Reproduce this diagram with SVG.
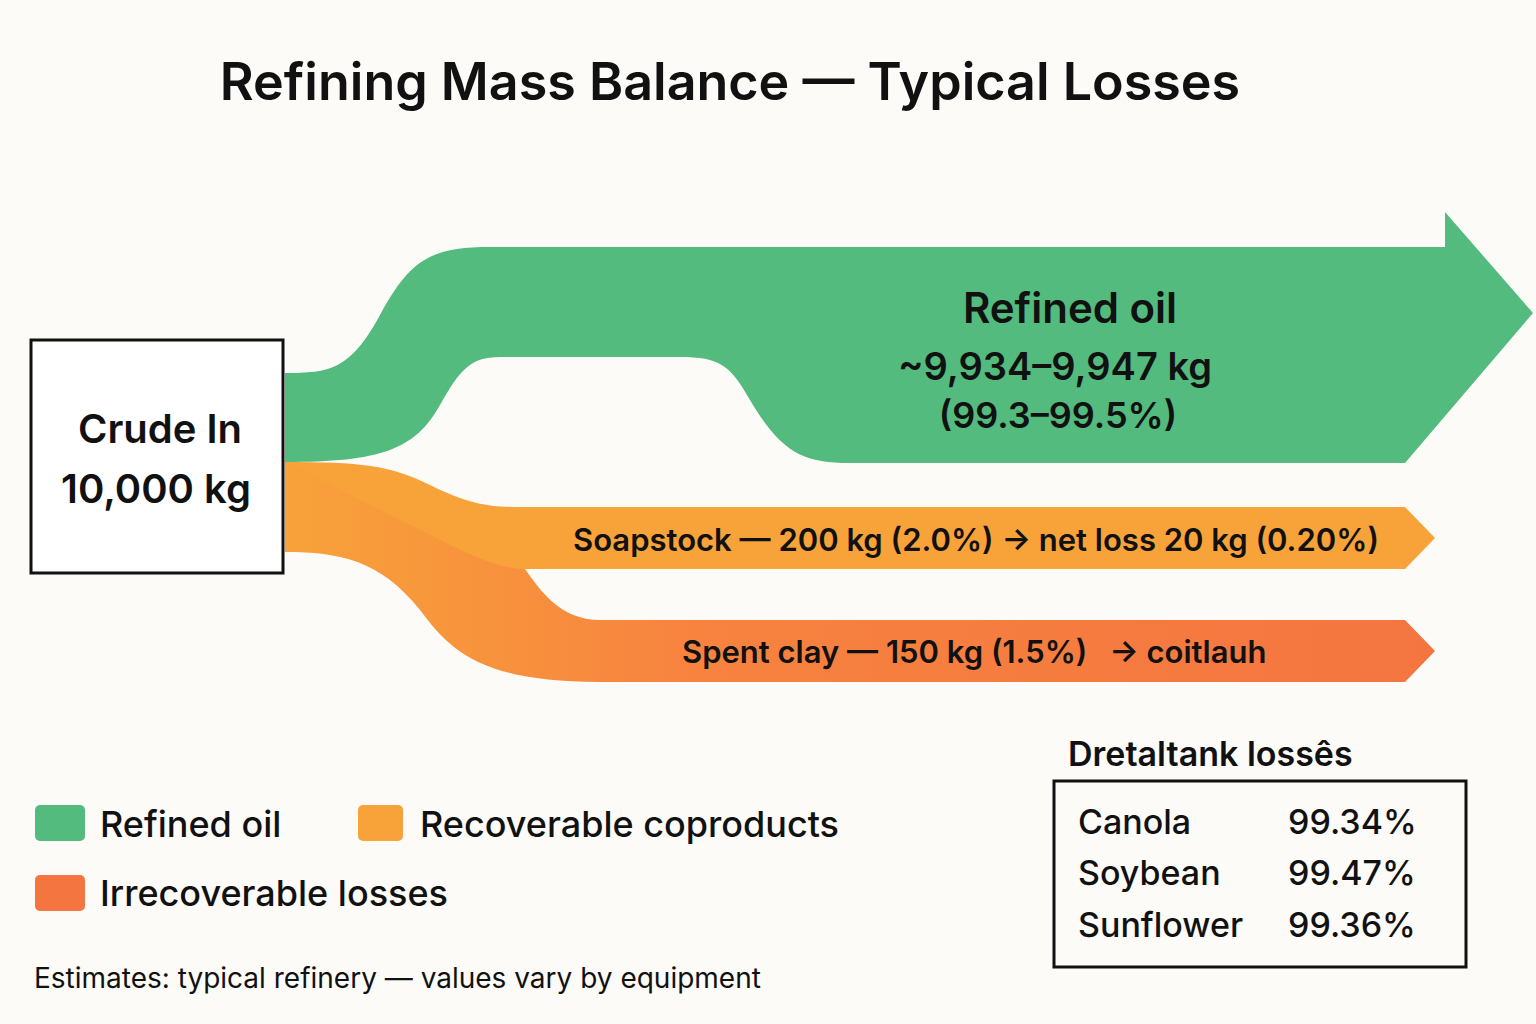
<svg xmlns="http://www.w3.org/2000/svg" width="1536" height="1024" viewBox="0 0 1536 1024">
<defs>
<linearGradient id="og" x1="0" y1="0" x2="1" y2="0" gradientUnits="objectBoundingBox">
<stop offset="0" stop-color="#F8A23A"/><stop offset="0.35" stop-color="#F7833F"/><stop offset="1" stop-color="#F47540"/>
</linearGradient>
</defs>
<style>
text{font-family:Inter,"Liberation Sans",sans-serif;fill:#111}
.b{font-weight:600}
</style>
<rect width="1536" height="1024" fill="#FCFBF7"/>
<text x="730" y="100" text-anchor="middle" class="b" font-size="52">Refining Mass Balance — Typical Losses</text>
<g id="flows">
<path d="M1405,620 L1435,651 L1405,682 L600,682 C480,682 450,650 420,610 C380,560 340,552 285,552 L285,462 C400,462 480,560 525,569 C540,590 560,620 600,620 Z" fill="url(#og)"/>
<path d="M285,462 C360,462 390,465 430,485 C470,505 490,507 520,507 L1405,507 L1435,538 L1405,569 L525,569 C500,569 470,555 440,540 Z" fill="#F8A23A"/>
<path d="M285,373 C330,373 350,370 380,315 C410,260 430,247 490,247 L1445,247 L1445,212 L1533,313 L1405,463 L850,463 C800,463 780,450 750,400 C730,365 720,357 680,357 L500,357 C470,357 460,370 440,405 C415,450 380,462 285,462 Z" fill="#52BB7D"/>
</g>
<g id="crude">
<rect x="31" y="340" width="252" height="233" fill="#fff" stroke="#111" stroke-width="3"/>
<text x="160" y="443" text-anchor="middle" class="b" font-size="40">Crude In</text>
<text x="156" y="503" text-anchor="middle" class="b" font-size="40">10,000 kg</text>
</g>
<g id="refined">
<text x="1070" y="323" text-anchor="middle" class="b" font-size="42">Refined oil</text>
<text x="1055" y="380" text-anchor="middle" class="b" font-size="38">~9,934–9,947 kg</text>
<text x="1058" y="428" text-anchor="middle" class="b" font-size="36">(99.3–99.5%)</text>
</g>
<g id="soapstock"><text x="976" y="551" text-anchor="middle" class="b" font-size="31">Soapstock — 200 kg (2.0%) → net loss 20 kg (0.20%)</text></g>
<g id="clay"><text x="682" y="663" class="b" font-size="31">Spent clay — 150 kg (1.5%)  <tspan dx="14">→ coitlauh</tspan></text></g>
<g id="legend">
<rect x="35" y="805" width="50" height="36" rx="5" fill="#52BB7D"/><text x="100" y="837" font-size="36" class="b" style="font-weight:500">Refined oil</text>
<rect x="358" y="805" width="45" height="36" rx="5" fill="#F8A23A"/><text x="420" y="837" font-size="36" style="font-weight:500">Recoverable coproducts</text>
<rect x="35" y="875" width="50" height="36" rx="5" fill="#F47540"/><text x="100" y="906" font-size="36" style="font-weight:500">Irrecoverable losses</text>
<text x="34" y="988" font-size="28">Estimates: typical refinery — values vary by equipment</text>
</g>
<g id="table">
<text x="1068" y="766" class="b" font-size="34">Dretaltank lossês</text>
<rect x="1054" y="781" width="412" height="186" fill="none" stroke="#111" stroke-width="3"/>
<text x="1078" y="834" font-size="34" style="font-weight:500">Canola</text><text x="1288" y="834" font-size="34" style="font-weight:500">99.34%</text>
<text x="1078" y="885" font-size="34" style="font-weight:500">Soybean</text><text x="1288" y="885" font-size="34" style="font-weight:500">99.47%</text>
<text x="1078" y="937" font-size="34" style="font-weight:500">Sunflower</text><text x="1288" y="937" font-size="34" style="font-weight:500">99.36%</text>
</g>
</svg>
